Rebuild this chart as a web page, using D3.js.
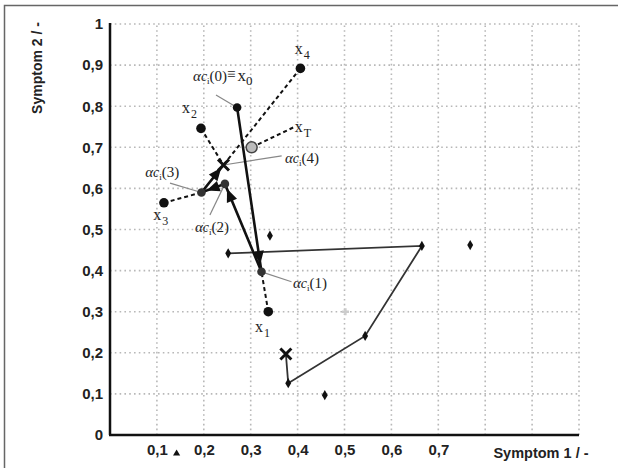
<!DOCTYPE html>
<html><head><meta charset="utf-8">
<script src="https://cdn.jsdelivr.net/npm/d3@7"></script>
<style>body{margin:0;background:#fff}</style>
</head><body><svg id="c" width="618" height="468"></svg>
<script>
// ---- data ----
const xTickValues = [0.1, 0.2, 0.3, 0.4, 0.5, 0.6, 0.7];
const yTickValues = [0, 0.1, 0.2, 0.3, 0.4, 0.5, 0.6, 0.7, 0.8, 0.9, 1];
const gridValues = [0.1, 0.2, 0.3, 0.4, 0.5, 0.6, 0.7, 0.8, 0.9, 1.0];
const xAxisTitle = "Symptom 1 / -";
const yAxisTitle = "Symptom 2 / -";

// samples x1..x4
const sampleNames = ["1", "2", "3", "4"];
const sampleX = [0.3375, 0.194, 0.115, 0.406];
const sampleY = [0.300, 0.746, 0.565, 0.892];

// centre trajectory alpha_c(0..4)
const alphaX = [0.271, 0.323, 0.245, 0.195, 0.242];
const alphaY = [0.797, 0.397, 0.611, 0.590, 0.657];
const arrowFractions = [0.91, 0.87, 0.5, 0.7];

// x_T
const xT = [0.302, 0.700];
const xTLabelEnd = [0.394, 0.750];

// second trajectory (diamonds)
const pathX = [0.252, 0.665, 0.544, 0.380, 0.375];
const pathY = [0.442, 0.460, 0.241, 0.126, 0.197];
const looseX = [0.341, 0.768, 0.458];
const looseY = [0.485, 0.462, 0.097];
const greyPlus = [0.502, 0.300];
const smallTriangle = [0.142, -0.045];

// annotations
const labels = [
  {kind: "x", sub: "4", x: 0.394, y: 0.928},
  {kind: "a0", x: 0.177, y: 0.861},
  {kind: "x", sub: "2", x: 0.1535, y: 0.783},
  {kind: "x", sub: "T", x: 0.394, y: 0.737},
  {kind: "a", n: "4", x: 0.373, y: 0.662},
  {kind: "a", n: "3", x: 0.075, y: 0.628},
  {kind: "x", sub: "3", x: 0.092, y: 0.523},
  {kind: "a", n: "2", x: 0.181, y: 0.494},
  {kind: "a", n: "1", x: 0.390, y: 0.358},
  {kind: "x", sub: "1", x: 0.309, y: 0.251}
];
const leaderFrom = [[0.226, 0.827], [0.387, 0.373], [0.213, 0.535], [0.128, 0.613], [0.366, 0.679]];

// ---- drawing ----
const svg = d3.select("#c");
const W = 618, H = 468;
const m = {l: 110, r: 39, t: 24, b: 33};
const x = d3.scaleLinear().domain([0, 1]).range([m.l, W - m.r]);
const y = d3.scaleLinear().domain([0, 1]).range([H - m.b, m.t]);
const fmt = d3.formatLocale({decimal: ",", thousands: ".", grouping: [3], currency: ["", ""]}).format("~g");

svg.append("rect").attr("width", W).attr("height", H).attr("fill", "#fff");
// frame
svg.append("path").attr("d", `M4.5,${H} V5.5 H${W}`).attr("fill", "none").attr("stroke", "#666").attr("stroke-width", 1.5);

// grid
const grid = svg.append("g").attr("stroke", "#b8b8b8").attr("stroke-width", 1.6).attr("stroke-dasharray", "1.6,3.2");
grid.selectAll(".h").data(gridValues).join("line")
  .attr("x1", x(0)).attr("x2", x(1)).attr("y1", d => y(d)).attr("y2", d => y(d));
grid.selectAll(".v").data(gridValues).join("line")
  .attr("y1", y(0)).attr("y2", y(1)).attr("x1", d => x(d)).attr("x2", d => x(d));

// axes
const xAxis = svg.append("g").attr("transform", `translate(0,${y(0)})`)
  .call(d3.axisBottom(x).tickValues(xTickValues).tickFormat(fmt).tickSize(0).tickPadding(9));
const yAxis = svg.append("g").attr("transform", `translate(${x(0)},0)`)
  .call(d3.axisLeft(y).tickValues(yTickValues).tickFormat(fmt).tickSize(0).tickPadding(7));
[xAxis, yAxis].forEach(a => {
  a.select(".domain").attr("stroke", "#111").attr("stroke-width", 2.5);
  a.selectAll("text").attr("font-family", "Liberation Sans, Arial, sans-serif")
    .attr("font-weight", "bold").attr("font-size", 15).attr("fill", "#222");
});
yAxis.select(".domain").attr("d", `M0,${y(1) - 1}V${y(0)}`);
xAxis.select(".domain").attr("d", `M${x(0) - 1},0H${x(1)}`);

svg.append("text").attr("x", 541).attr("y", 458).attr("text-anchor", "middle")
  .attr("font-family", "Liberation Sans, Arial, sans-serif").attr("font-weight", "bold")
  .attr("font-size", 14.5).attr("fill", "#222").text(xAxisTitle);
svg.append("text").attr("transform", "translate(42,68) rotate(-90)").attr("text-anchor", "middle")
  .attr("font-family", "Liberation Sans, Arial, sans-serif").attr("font-weight", "bold")
  .attr("font-size", 14).attr("fill", "#222").text(yAxisTitle);

// leader lines
const alphaPts = alphaX.map((v, i) => [v, alphaY[i]]);
svg.append("g").attr("stroke", "#888").attr("stroke-width", 1.2)
  .selectAll("line").data(leaderFrom).join("line")
  .attr("x1", d => x(d[0])).attr("y1", d => y(d[1]))
  .attr("x2", (d, i) => x(alphaPts[i][0])).attr("y2", (d, i) => y(alphaPts[i][1]));

// dashed lines sample -> alpha
const dashPairs = [[sampleX[0], sampleY[0], alphaX[1], alphaY[1]],
                   [sampleX[1], sampleY[1], alphaX[4], alphaY[4]],
                   [sampleX[2], sampleY[2], alphaX[3], alphaY[3]],
                   [sampleX[3], sampleY[3], alphaX[4], alphaY[4]],
                   [xT[0], xT[1], xTLabelEnd[0], xTLabelEnd[1]]];
svg.append("g").attr("stroke", "#111").attr("stroke-width", 2).attr("stroke-dasharray", "4,3")
  .selectAll("line").data(dashPairs).join("line")
  .attr("x1", d => x(d[0])).attr("y1", d => y(d[1])).attr("x2", d => x(d[2])).attr("y2", d => y(d[3]));

// second trajectory
const line = d3.line().x(d => x(d[0])).y(d => y(d[1]));
const pathPts = pathX.map((v, i) => [v, pathY[i]]);
svg.append("path").attr("d", line(pathPts)).attr("fill", "none").attr("stroke", "#333").attr("stroke-width", 1.8);
const diamond = d3.symbol().type(d3.symbolDiamond).size(30);
svg.append("g").selectAll("path").data(pathPts.slice(0, 4).concat(looseX.map((v, i) => [v, looseY[i]]))).join("path")
  .attr("d", diamond).attr("transform", d => `translate(${x(d[0])},${y(d[1])})`).attr("fill", "#111");
svg.append("path").attr("d", d3.symbol().type(d3.symbolCross).size(28)())
  .attr("transform", `translate(${x(greyPlus[0])},${y(greyPlus[1])})`).attr("fill", "#ccc");
svg.append("path").attr("d", d3.symbol().type(d3.symbolTriangle).size(22)())
  .attr("transform", `translate(${x(smallTriangle[0])},${y(smallTriangle[1])})`).attr("fill", "#111");

// main trajectory (solid thick)
svg.append("path").attr("d", line(alphaPts)).attr("fill", "none").attr("stroke", "#111").attr("stroke-width", 2.6);

// arrowheads
const arrows = arrowFractions.map((t, i) => {
  const a = alphaPts[i], b = alphaPts[i + 1];
  const px = x(a[0]) + t * (x(b[0]) - x(a[0])), py = y(a[1]) + t * (y(b[1]) - y(a[1]));
  const ang = Math.atan2(y(b[1]) - y(a[1]), x(b[0]) - x(a[0])) * 180 / Math.PI;
  return {px, py, ang};
});
svg.append("g").selectAll("path").data(arrows).join("path")
  .attr("d", "M7,0 L-6,-5.5 L-6,5.5 Z")
  .attr("transform", d => `translate(${d.px},${d.py}) rotate(${d.ang})`).attr("fill", "#111");

// sample dots
svg.append("g").selectAll("circle").data(sampleX).join("circle")
  .attr("cx", d => x(d)).attr("cy", (d, i) => y(sampleY[i])).attr("r", 4.8).attr("fill", "#111");
// alpha dots (0..3)
svg.append("g").selectAll("circle").data(alphaPts.slice(0, 4)).join("circle")
  .attr("cx", d => x(d[0])).attr("cy", d => y(d[1])).attr("r", 4.3)
  .attr("fill", (d, i) => i === 0 ? "#111" : "#333");
// x_T circle
svg.append("circle").attr("cx", x(xT[0])).attr("cy", y(xT[1])).attr("r", 5.5)
  .attr("fill", "#bbb").attr("stroke", "#444").attr("stroke-width", 1.5);

// crosses
const crossPts = [alphaPts[4], [pathX[4], pathY[4]]];
svg.append("g").selectAll("path").data(crossPts).join("path")
  .attr("d", "M-5.5,-5.5L5.5,5.5M-5.5,5.5L5.5,-5.5")
  .attr("transform", d => `translate(${x(d[0])},${y(d[1])})`)
  .attr("stroke", "#111").attr("stroke-width", 3).attr("fill", "none");

// labels
const lab = svg.append("g").attr("font-family", "Liberation Serif, DejaVu Serif, serif").attr("fill", "#222");
labels.forEach(L => {
  const t = lab.append("text").attr("x", x(L.x)).attr("y", y(L.y)).attr("font-size", 16);
  if (L.kind === "x") {
    t.append("tspan").text("x");
    t.append("tspan").attr("dy", 5).attr("font-size", 12).attr("dx", 1).text(L.sub);
  } else {
    t.append("tspan").attr("font-style", "italic").attr("font-size", 15).text("α");
    t.append("tspan").attr("font-style", "italic").attr("font-size", 14).text("c");
    t.append("tspan").attr("dy", 3).attr("font-size", 9).text("i");
    t.append("tspan").attr("dy", -3).attr("font-size", 15).text(L.kind === "a0" ? "(0)" : `(${L.n})`);
    if (L.kind === "a0") {
      t.append("tspan").attr("dy", -2).attr("font-size", 15).text("≡");
      t.append("tspan").attr("dy", 2).attr("font-size", 17).attr("dx", 2).text("x");
      t.append("tspan").attr("dy", 4).attr("font-size", 13).text("0");
    }
  }
});
</script></body></html>
